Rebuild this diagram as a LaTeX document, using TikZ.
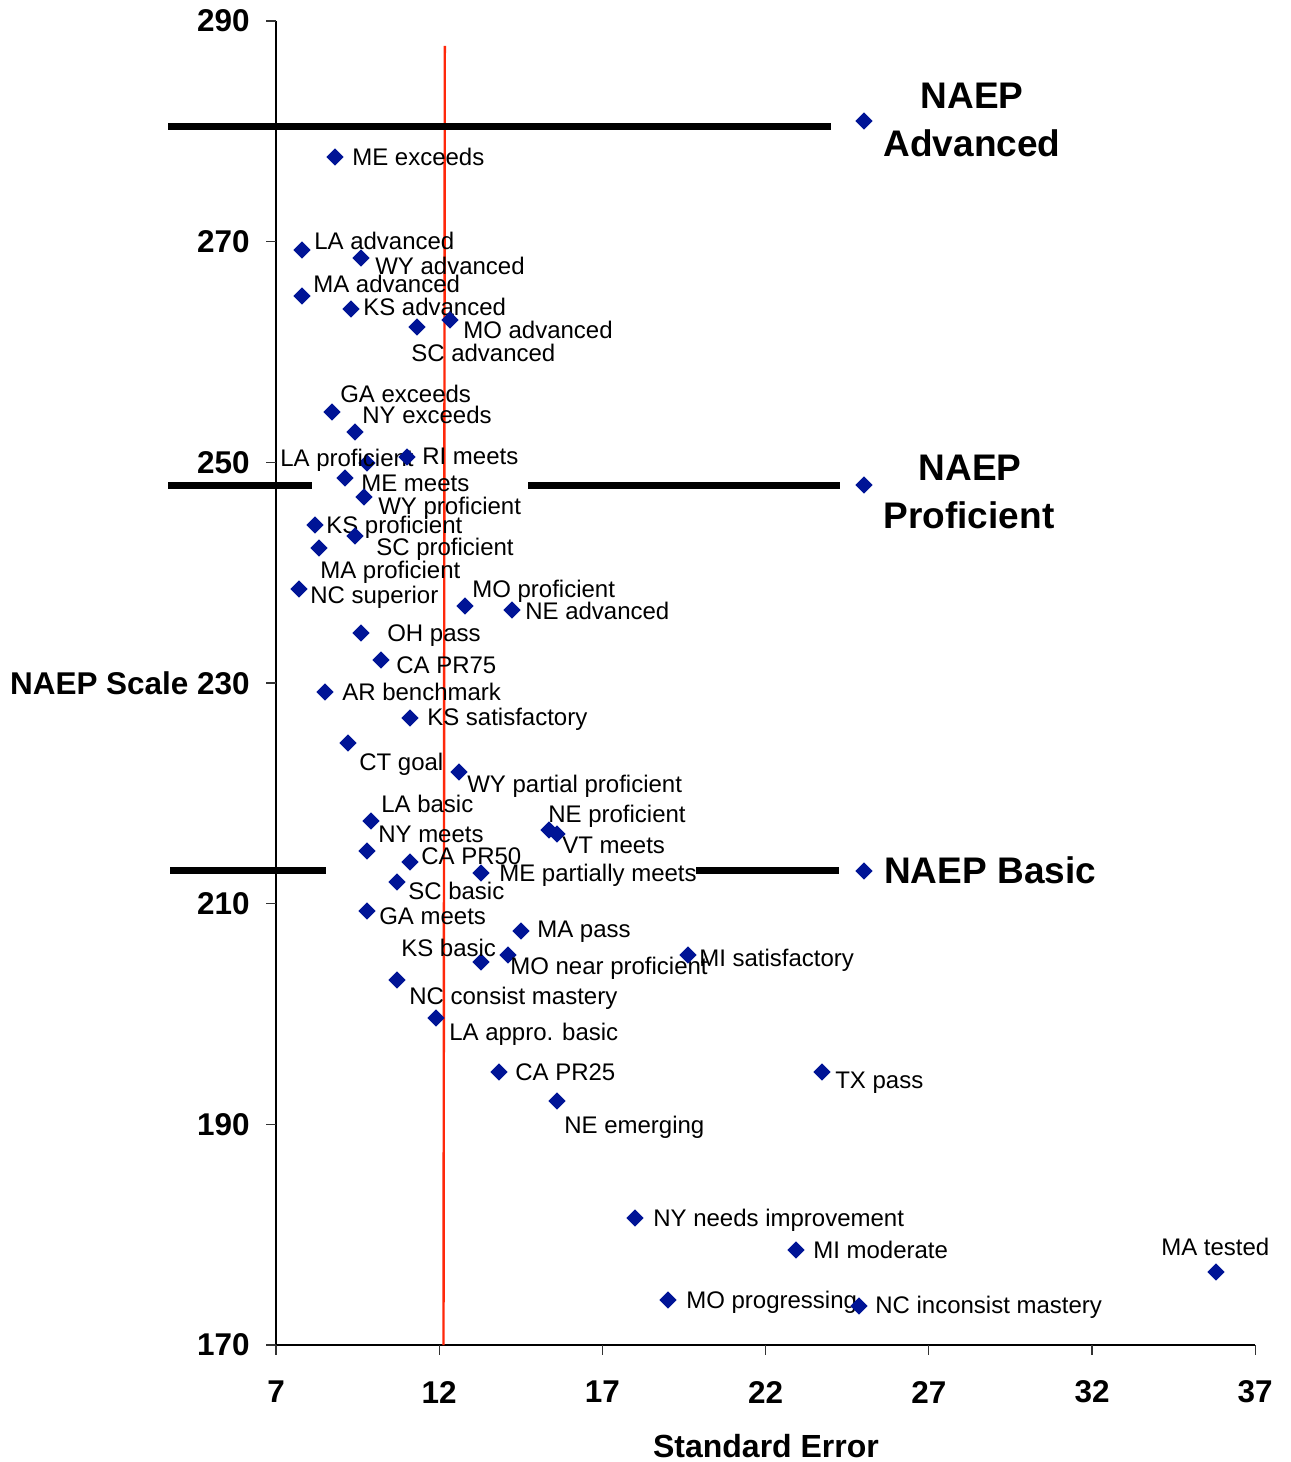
\documentclass[tikz,border=0pt]{standalone}
\usepackage{fontspec}
\setmainfont{Liberation Sans}
\usetikzlibrary{shapes.geometric}
\definecolor{dblue}{RGB}{0,20,150}
\definecolor{redl}{RGB}{255,40,10}
\begin{document}
\begin{tikzpicture}[x=0.75pt,y=-0.75pt,
  dpt/.style={diamond,fill=dblue,inner sep=0pt,minimum width=13pt,minimum height=13pt},
  lab/.style={anchor=base west,inner sep=0pt,font=\fontsize{18}{20}\selectfont},
  ticklab/.style={inner sep=0pt,font=\fontsize{23.6}{26}\selectfont\bfseries},
  axtitle/.style={inner sep=0pt,font=\fontsize{24}{28}\selectfont\bfseries},
  naep/.style={inner sep=0pt,font=\fontsize{27.75}{32}\selectfont\bfseries},
  axisline/.style={line width=1pt,draw=black},
  tickline/.style={line width=0.8pt,draw=black!80},
  level/.style={line width=5.25pt,draw=black},
  redline/.style={line width=1.8pt,draw=redl}]
\useasboundingbox (0,0) rectangle (1290,1462);
% axes
\coordinate (ytop) at (276,21);
\coordinate (orig) at (276,1345);
\coordinate (xend) at (1255.2,1345);
\draw[axisline] (ytop) -- (orig) -- (xend);
% y ticks and labels
\foreach \v/\yy in {290/21,270/241.7,250/462.3,210/903.7,190/1124.3,170/1345}{
  \draw[tickline] (266,\yy) -- (276,\yy);
  \node[ticklab,anchor=east] (yl\v) at (250,\yy) {\v};
}
\draw[tickline] (266,683) -- (276,683);
\node[ticklab,anchor=east] (yl230) at (250,683) {NAEP Scale 230};
% x ticks and labels
\foreach \v [count=\i from 0] in {7,12,17,22,27,32,37}{
  \draw[tickline] ({276+163.2*\i},1345) -- ({276+163.2*\i},1355);
  \node[ticklab] (xl\v) at ({276+163.2*\i},1392) {\v};
}
\node[axtitle] (xtitle) at (766,1446) {Standard Error};
% red line
\coordinate (rtop) at (444.8,46);
\coordinate (rbot) at (443.5,1345);
\draw[redline] (rtop) -- (rbot);
% NAEP level lines
\coordinate (a1) at (168,127); \coordinate (a2) at (831,127);
\draw[level] (a1) -- (a2);
\coordinate (p1) at (168,485); \coordinate (p2) at (312,485);
\coordinate (p3) at (528,485); \coordinate (p4) at (840,485);
\draw[level] (p1) -- (p2);
\draw[level] (p3) -- (p4);
\coordinate (b1) at (170,870); \coordinate (b2) at (326,870);
\coordinate (b3) at (696,870); \coordinate (b4) at (839,870);
\draw[level] (b1) -- (b2);
\draw[level] (b3) -- (b4);
% NAEP markers and labels
\node[dpt] (nadv) at (864,121) {};
\node[dpt] (nprof) at (864,485) {};
\node[dpt] (nbas) at (864,871) {};
\node[naep] (tadv1) at (972,96) {NAEP};
\node[naep] (tadv2) at (972,143) {Advanced};
\node[naep] (tprof1) at (970,468) {NAEP};
\node[naep] (tprof2) at (969,515) {Proficient};
\node[naep,anchor=west] (tbas) at (884,870) {NAEP Basic};
% data points
\foreach \dx/\dy/\lx/\ly/\t [count=\i] in {
 335/157/352/157/ME exceeds,
 302/250/314/241/LA advanced,
 361/258/375/266/WY advanced,
 302/296/313/284/MA advanced,
 351/309/363/307/KS advanced,
 417/327/411/353/SC advanced,
 450/320/463/330/MO advanced,
 332/412/340/394/GA exceeds,
 355/432/362/415/NY exceeds,
 367/463/280/458/LA proficient,
 407/457/422/456/RI meets,
 345/478/361/483/ME meets,
 364/497/378/506/WY proficient,
 315/525/326/525/KS proficient,
 355/536/376/547/SC proficient,
 319/548/320/570/MA proficient,
 299/589/310/595/NC superior,
 465/606/472/589/MO proficient,
 512/610/525/611/NE advanced,
 361/633/387/633/OH pass,
 381/660/396/665/CA PR75,
 325/692/342/692/AR benchmark,
 410/718/427/717/KS satisfactory,
 348/743/359/762/CT goal,
 459/772/467/784/WY partial proficient,
 371/821/381/804/LA basic,
 367/851/378/834/NY meets,
 410/862/421/856/CA PR50,
 397/882/408/891/SC basic,
 481/873/499/873/ME partially meets,
 549/830/548/814/NE proficient,
 557/834/562/845/VT meets,
 367/911/379/916/GA meets,
 521/931/537/929/MA pass,
 481/962/401/948/KS basic,
 508/955/510/966/MO near proficient,
 688/955/699/958/MI satisfactory,
 397/980/409/996/NC consist mastery,
 436/1018/449/1032/LA appro. basic,
 499/1072/515/1072/CA PR25,
 557/1101/564/1125/NE emerging,
 822/1072/835/1080/TX pass,
 635/1218/653/1218/NY needs improvement,
 796/1250/813/1250/MI moderate,
 1216/1272/1161/1247/MA tested,
 668/1300/686/1300/MO progressing,
 859/1306/875/1305/NC inconsist mastery}{
  \node[dpt] (d\i) at (\dx,\dy) {};
  \node[lab] (l\i) at (\lx,\ly+8.5) {\t};
}
\end{tikzpicture}
\end{document}
